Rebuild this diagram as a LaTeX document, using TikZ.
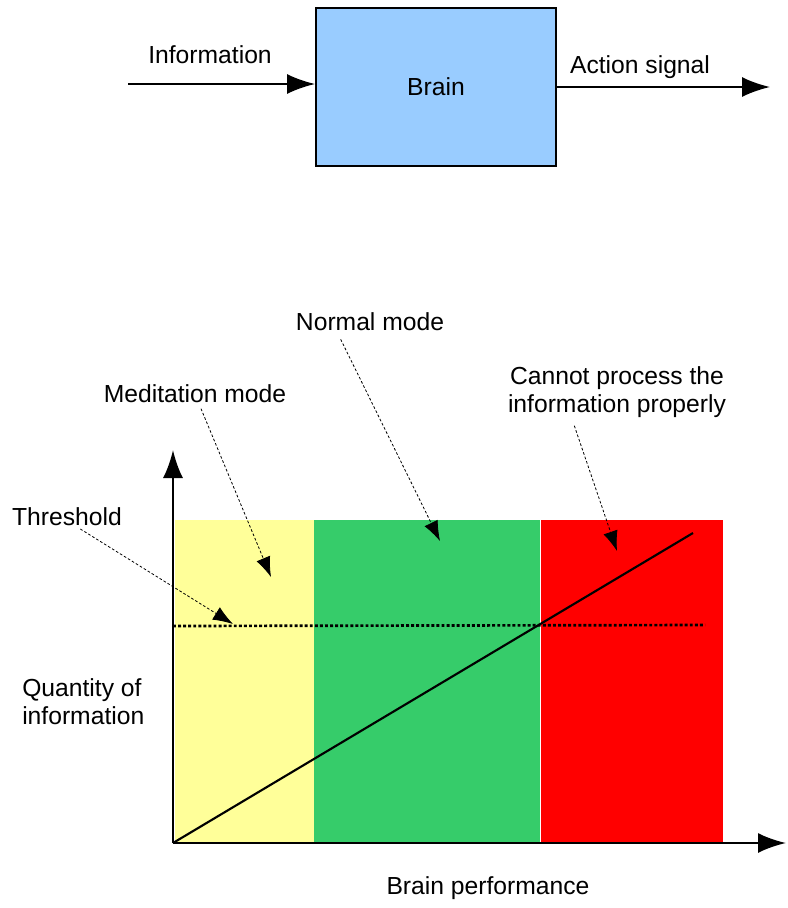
\documentclass[tikz,border=0pt]{standalone}
\usepackage{fontspec}
\setmainfont{Liberation Sans}
\usepackage{tikz}
\usetikzlibrary{arrows.meta,positioning}

\definecolor{brainblue}{HTML}{99CCFF}
\definecolor{medyellow}{HTML}{FFFF99}
\definecolor{normgreen}{HTML}{36CC6A}
\definecolor{overred}{HTML}{FF0000}

\begin{document}
\begin{tikzpicture}[x=0.75pt,y=-0.75pt,
    lbl/.style={font=\fontsize{18.5}{21}\selectfont,inner sep=0pt,align=center},
    flow/.style={line width=1.6pt,-{Latex[length=21pt,width=15pt]}},
    axis/.style={line width=1.8pt,-{Latex[length=21pt,width=15pt]}},
    note/.style={line width=0.6pt,dash pattern=on 2pt off 1.5pt,
        -{Latex[length=15pt,width=11pt]}},
    zone/.style={draw=none,minimum height=242.25pt,inner sep=0pt,anchor=south west}
]
\useasboundingbox (0,0) rectangle (788,908);

% top: brain as a block
\node[draw,fill=brainblue,line width=1.4pt,minimum width=180pt,minimum height=118.5pt] (brain) at (436,87) {};
\node[lbl] (brainlbl) at (brain.center) {Brain};
\coordinate (inp) at (128,84);
\coordinate (outp) at (770,87);
\draw[flow] (inp) -- (inp -| brain.west);
\draw[flow] (outp -| brain.east) -- (outp);
\node[lbl] (info) at (210,55) {Information};
\node[lbl] (act) at (640,67) {Action signal};

% bottom: zones
\coordinate (orig) at (173,843);
\node[zone,fill=medyellow,minimum width=104.25pt] (med) at (175,843) {};
\node[zone,fill=normgreen,minimum width=169.5pt] (norm) at (314,843) {};
\node[zone,fill=overred,minimum width=136.5pt] (over) at (540.5,843) {};
\draw[white,line width=0.8pt] (norm.south east) -- (norm.north east);

% axes
\coordinate (ytip) at (173,450);
\coordinate (xtip) at (786,843);
\draw[axis] (orig) -- (ytip);
\draw[axis] (orig) -- (xtip);

% load line and threshold
\coordinate (lineend) at (693,533);
\draw[line width=1.6pt] (orig) -- (lineend);
\coordinate (thra) at (173,626);
\coordinate (thrb) at (705,625);
\draw[line width=2pt,dash pattern=on 2.2pt off 1.6pt] (thra) -- (thrb);

% labels
\node[lbl] (thr) at (67,517) {Threshold};
\node[lbl] (medl) at (195,394) {Meditation mode};
\node[lbl] (norml) at (370,322) {Normal mode};
\node[lbl] (cant) at (617,392) {Cannot process the\\information properly};
\node[lbl,align=left,anchor=west] (qty) at (22,702) {Quantity of\\information};
\node[lbl] (perf) at (488,888) {Brain performance};

% dotted pointers
\coordinate (thrtip) at (233,624);
\coordinate (medtip) at (271,577);
\coordinate (normtip) at (440,541);
\coordinate (canttip) at (617,551);
\draw[note] ([xshift=10pt,yshift=-2pt]thr.south) -- (thrtip);
\draw[note] ([xshift=4.5pt,yshift=-4pt]medl.south) -- (medtip);
\draw[note] ([xshift=-22pt,yshift=-6pt]norml.south) -- (normtip);
\draw[note] ([xshift=-32pt,yshift=-6pt]cant.south) -- (canttip);
\end{tikzpicture}
\end{document}
